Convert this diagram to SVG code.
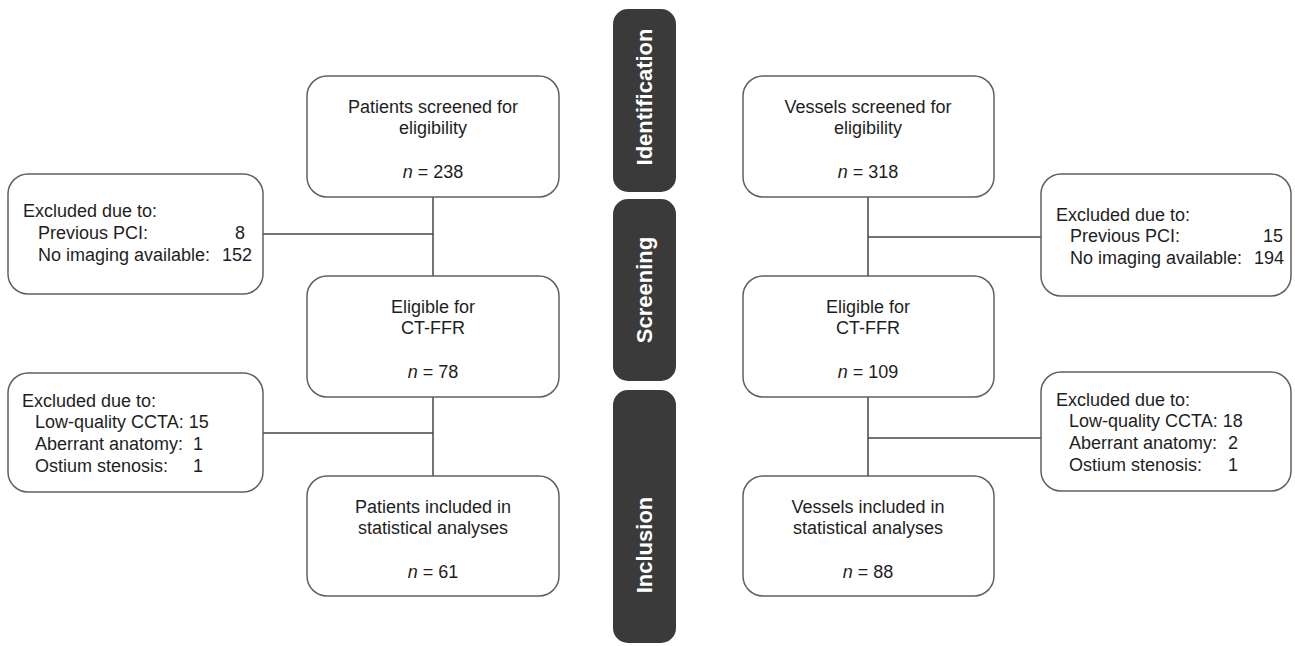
<svg xmlns="http://www.w3.org/2000/svg" width="1295" height="646" viewBox="0 0 1295 646">
<style>
text{font-family:"Liberation Sans",Arial,sans-serif;font-size:18px;fill:#1e1e1e}
.c{text-anchor:middle}
.e{text-anchor:end}
.box{fill:#fff;stroke:#606060;stroke-width:1.5}
.pill{fill:#3a3a3a}
.pt{font-family:"Liberation Sans",Arial,sans-serif;font-weight:bold;font-size:22px;fill:#fff;text-anchor:middle}
.ln{stroke:#444;stroke-width:1.5;fill:none}
</style>
<rect width="1295" height="646" fill="#fff"/>
<g id="connectors">
<line class="ln" x1="433" y1="197" x2="433" y2="276"/>
<line class="ln" x1="433" y1="397" x2="433" y2="476"/>
<line class="ln" x1="263" y1="234" x2="433" y2="234"/>
<line class="ln" x1="263" y1="433" x2="433" y2="433"/>
<line class="ln" x1="868" y1="197" x2="868" y2="276"/>
<line class="ln" x1="868" y1="397" x2="868" y2="476"/>
<line class="ln" x1="868" y1="237" x2="1041" y2="237"/>
<line class="ln" x1="868" y1="438" x2="1041" y2="438"/>
</g>
<g id="pill-identification">
<rect class="pill" x="613" y="9" width="63" height="183" rx="15"/>
<text class="pt" transform="translate(652,97) rotate(-90)">Identification</text>
</g>
<g id="pill-screening">
<rect class="pill" x="613" y="199" width="63" height="182" rx="15"/>
<text class="pt" transform="translate(652,290) rotate(-90)">Screening</text>
</g>
<g id="pill-inclusion">
<rect class="pill" x="613" y="390" width="63" height="253" rx="15"/>
<text class="pt" transform="translate(652,545) rotate(-90)">Inclusion</text>
</g>
<g id="patients-screened">
<rect class="box" x="307" y="76" width="252" height="121" rx="20"/>
<text class="c" x="433" y="113">Patients screened for</text>
<text class="c" x="433" y="134">eligibility</text>
<text class="c" x="433" y="178"><tspan font-style="italic">n</tspan> = 238</text>
</g>
<g id="patients-eligible">
<rect class="box" x="307" y="276" width="252" height="121" rx="20"/>
<text class="c" x="433" y="313">Eligible for</text>
<text class="c" x="433" y="334">CT-FFR</text>
<text class="c" x="433" y="378"><tspan font-style="italic">n</tspan> = 78</text>
</g>
<g id="patients-included">
<rect class="box" x="307" y="476" width="252" height="120" rx="20"/>
<text class="c" x="433" y="513">Patients included in</text>
<text class="c" x="433" y="534">statistical analyses</text>
<text class="c" x="433" y="578"><tspan font-style="italic">n</tspan> = 61</text>
</g>
<g id="vessels-screened">
<rect class="box" x="743" y="76" width="251" height="121" rx="20"/>
<text class="c" x="868" y="113">Vessels screened for</text>
<text class="c" x="868" y="134">eligibility</text>
<text class="c" x="868" y="178"><tspan font-style="italic">n</tspan> = 318</text>
</g>
<g id="vessels-eligible">
<rect class="box" x="743" y="276" width="251" height="121" rx="20"/>
<text class="c" x="868" y="313">Eligible for</text>
<text class="c" x="868" y="334">CT-FFR</text>
<text class="c" x="868" y="378"><tspan font-style="italic">n</tspan> = 109</text>
</g>
<g id="vessels-included">
<rect class="box" x="743" y="476" width="251" height="120" rx="20"/>
<text class="c" x="868" y="513">Vessels included in</text>
<text class="c" x="868" y="534">statistical analyses</text>
<text class="c" x="868" y="578"><tspan font-style="italic">n</tspan> = 88</text>
</g>
<g id="excluded-patients-1">
<rect class="box" x="8" y="174" width="255" height="120" rx="20"/>
<text x="23" y="217">Excluded due to:</text>
<text x="38" y="239">Previous PCI:</text>
<text class="e" x="245" y="239">8</text>
<text x="38" y="261">No imaging available:</text>
<text class="e" x="252" y="261">152</text>
</g>
<g id="excluded-patients-2">
<rect class="box" x="8" y="373" width="255" height="119" rx="20"/>
<text x="22" y="407">Excluded due to:</text>
<text x="35" y="428">Low-quality CCTA: 15</text>
<text x="35" y="450">Aberrant anatomy:</text>
<text class="e" x="203" y="450">1</text>
<text x="35" y="472">Ostium stenosis:</text>
<text class="e" x="203" y="472">1</text>
</g>
<g id="excluded-vessels-1">
<rect class="box" x="1041" y="174" width="250" height="122" rx="20"/>
<text x="1056" y="221">Excluded due to:</text>
<text x="1070" y="242">Previous PCI:</text>
<text class="e" x="1283" y="242">15</text>
<text x="1070" y="264">No imaging available:</text>
<text class="e" x="1284" y="264">194</text>
</g>
<g id="excluded-vessels-2">
<rect class="box" x="1041" y="372" width="250" height="119" rx="20"/>
<text x="1056" y="406">Excluded due to:</text>
<text x="1069" y="427">Low-quality CCTA: 18</text>
<text x="1069" y="449">Aberrant anatomy:</text>
<text class="e" x="1238" y="449">2</text>
<text x="1069" y="471">Ostium stenosis:</text>
<text class="e" x="1238" y="471">1</text>
</g>
</svg>
